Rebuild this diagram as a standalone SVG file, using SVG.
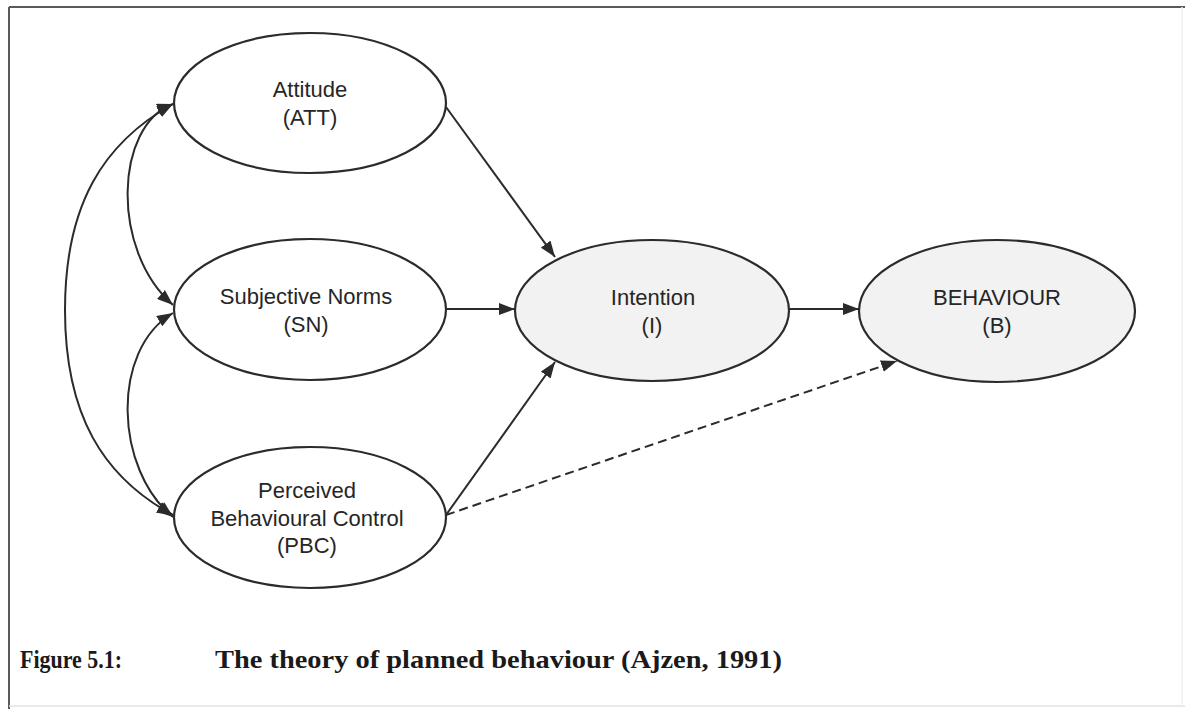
<svg xmlns="http://www.w3.org/2000/svg" width="1185" height="709" viewBox="0 0 1185 709">
  <style>
    .node { stroke: #2b2b2b; stroke-width: 2.2; }
    .plain { fill: #ffffff; }
    .shaded { fill: #f2f2f2; }
    .label { font-family: "Liberation Sans", Arial, sans-serif; font-size: 22px; fill: #262626; text-anchor: middle; }
    .edge { fill: none; stroke: #2b2b2b; stroke-width: 2; }
    .dashed { stroke-dasharray: 9 5; }
    .caption { font-family: "Liberation Serif", "Times New Roman", serif; font-weight: bold; font-size: 25px; fill: #1a1a1a; }
  </style>
  <defs>
    <marker id="arrow" viewBox="0 0 16 12" refX="16" refY="6" markerWidth="16" markerHeight="12" markerUnits="userSpaceOnUse" orient="auto-start-reverse">
      <path d="M0,0 L16,6 L0,12 Z" fill="#2b2b2b"/>
    </marker>
  </defs>

  <rect width="1185" height="709" fill="#ffffff"/>

  <!-- page frame -->
  <g id="frame">
    <line x1="9" y1="7" x2="1185" y2="7" stroke="#5a5a5a" stroke-width="2"/>
    <line x1="9" y1="7" x2="9" y2="709" stroke="#5a5a5a" stroke-width="2"/>
    <line x1="9" y1="706" x2="1185" y2="706" stroke="#e2e2e2" stroke-width="1.5"/>
    <line x1="1182" y1="7" x2="1182" y2="706" stroke="#f0f0f0" stroke-width="1.5"/>
  </g>

  <!-- connectors: correlations on the left, paths to intention and behaviour -->
  <g id="connectors">
    <path class="edge" d="M173,104 C103,143 65,205 65,310 C65,415 103,477 173,515" marker-start="url(#arrow)" marker-end="url(#arrow)"/>
    <path class="edge" d="M173,104 C115,125 110,250 173,305" marker-start="url(#arrow)" marker-end="url(#arrow)"/>
    <path class="edge" d="M173,313 C110,350 115,470 173,517" marker-start="url(#arrow)" marker-end="url(#arrow)"/>
    <line class="edge" x1="446" y1="107" x2="555" y2="257" marker-end="url(#arrow)"/>
    <line class="edge" x1="446" y1="309" x2="515" y2="309" marker-end="url(#arrow)"/>
    <line class="edge" x1="446" y1="515" x2="555" y2="362" marker-end="url(#arrow)"/>
    <line class="edge" x1="789" y1="309" x2="859" y2="309" marker-end="url(#arrow)"/>
    <line class="edge dashed" x1="446" y1="515" x2="897" y2="361" marker-end="url(#arrow)"/>
  </g>

  <g id="att">
    <ellipse class="node plain" cx="310" cy="103" rx="136" ry="70"/>
    <text class="label" x="310" y="97">Attitude</text>
    <text class="label" x="310" y="125">(ATT)</text>
  </g>

  <g id="sn">
    <ellipse class="node plain" cx="310" cy="309.5" rx="136" ry="70.5"/>
    <text class="label" x="306" y="304">Subjective Norms</text>
    <text class="label" x="306" y="332">(SN)</text>
  </g>

  <g id="pbc">
    <ellipse class="node plain" cx="310" cy="517.5" rx="136" ry="70.5"/>
    <text class="label" x="307" y="498">Perceived</text>
    <text class="label" x="307" y="526">Behavioural Control</text>
    <text class="label" x="307" y="553">(PBC)</text>
  </g>

  <g id="intention">
    <ellipse class="node shaded" cx="652" cy="310.5" rx="137" ry="70.5"/>
    <text class="label" x="653" y="305">Intention</text>
    <text class="label" x="652" y="333">(I)</text>
  </g>

  <g id="behaviour">
    <ellipse class="node shaded" cx="997" cy="311" rx="138" ry="71"/>
    <text class="label" x="997" y="305">BEHAVIOUR</text>
    <text class="label" x="997" y="333">(B)</text>
  </g>

  <g id="caption">
    <text class="caption" x="20" y="668" textLength="102" lengthAdjust="spacingAndGlyphs">Figure 5.1:</text>
    <text class="caption" x="215" y="668" textLength="567" lengthAdjust="spacingAndGlyphs">The theory of planned behaviour (Ajzen, 1991)</text>
  </g>
</svg>
